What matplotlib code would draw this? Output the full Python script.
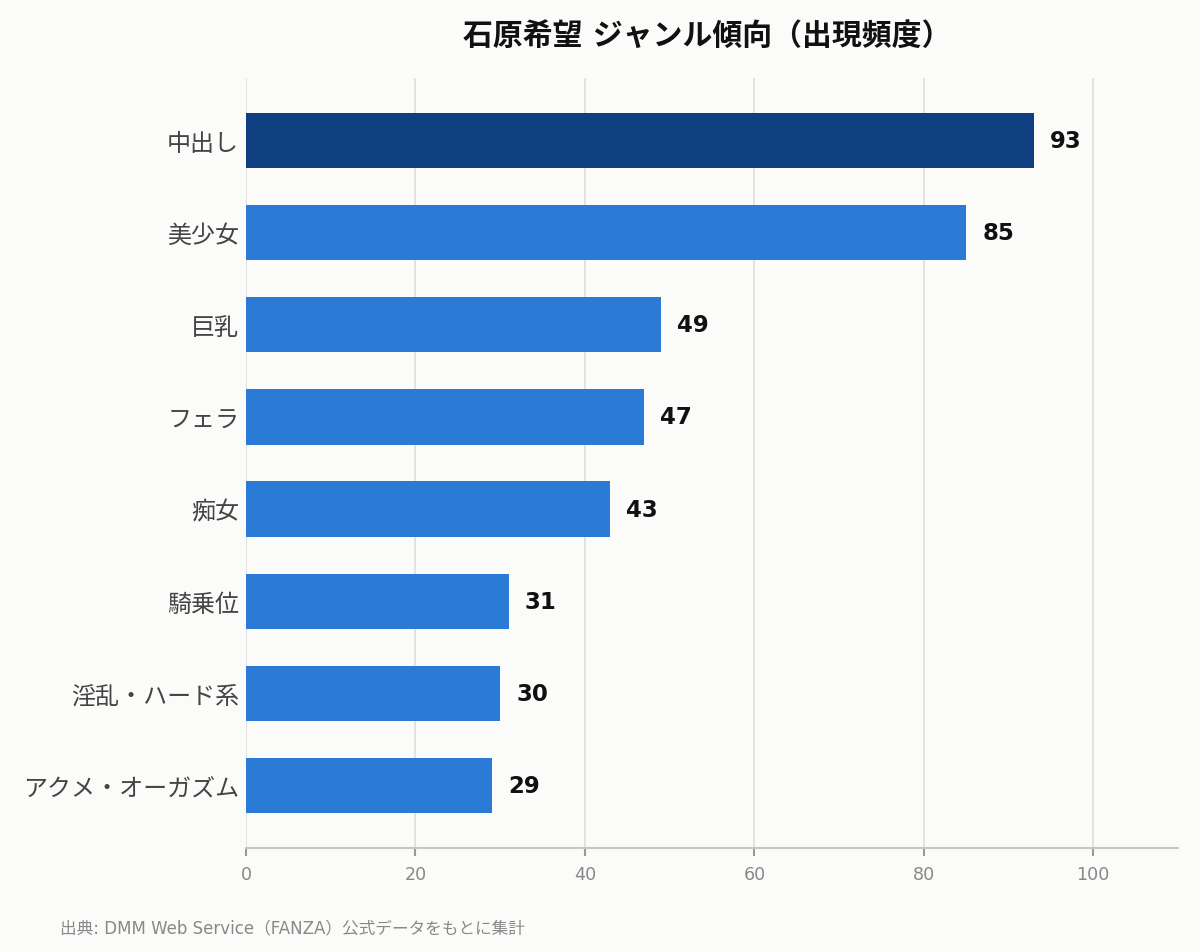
import matplotlib
matplotlib.use("Agg")
import matplotlib.pyplot as plt

plt.rcParams['font.family'] = ['DejaVu Sans', 'Noto Sans CJK JP']

categories = ["中出し", "美少女", "巨乳", "フェラ", "痴女", "騎乗位", "淫乱・ハード系", "アクメ・オーガズム"]
values = [93, 85, 49, 47, 43, 31, 30, 29]
xticks = [0, 20, 40, 60, 80, 100]
title = "石原希望 ジャンル傾向（出現頻度）"
source = "出典: DMM Web Service（FANZA）公式データをもとに集計"

bg = "#fbfbf9"
fig = plt.figure(figsize=(12, 9.53), dpi=100, facecolor=bg)
ax = fig.add_axes([0.205, 0.1089, 0.7767, 0.8084], facecolor=bg)

ypos = list(range(len(categories)))
colors = ["#0f3f80"] + ["#2a7ad6"] * (len(categories) - 1)
ax.barh(ypos, values, height=0.6, color=colors, zorder=3)
ax.set_ylim(len(categories) - 1 + 0.68, -0.68)
ax.set_xlim(0, 110)
ax.set_yticks(ypos)
ax.set_yticklabels(categories, fontsize=17.3, color="#444444")
ax.set_xticks(xticks)
ax.set_xticklabels([str(t) for t in xticks], fontsize=12.6, color="#888888")
ax.tick_params(axis='y', length=0, pad=5)
ax.tick_params(axis='x', length=6, color="#999999", width=1.5, pad=6)
ax.grid(axis='x', color="#dedede", linewidth=1.2, zorder=0)
for s in ["top", "right", "left"]:
    ax.spines[s].set_visible(False)
ax.spines["bottom"].set_color("#c8c8c0")
ax.spines["bottom"].set_linewidth(1.5)

for y, v in zip(ypos, values):
    ax.text(v + 1.9, y, str(v), va="center", ha="left", fontsize=16.5,
            fontweight="bold", color="#111111")

fig.text(0.5895, 0.962, title, ha="center", va="center", fontsize=21.5,
         fontweight="bold", color="#111111")
fig.text(0.05, 0.026, source, ha="left", va="center", fontsize=12, color="#888888")

fig.savefig("out.png", dpi=100, facecolor=bg)
